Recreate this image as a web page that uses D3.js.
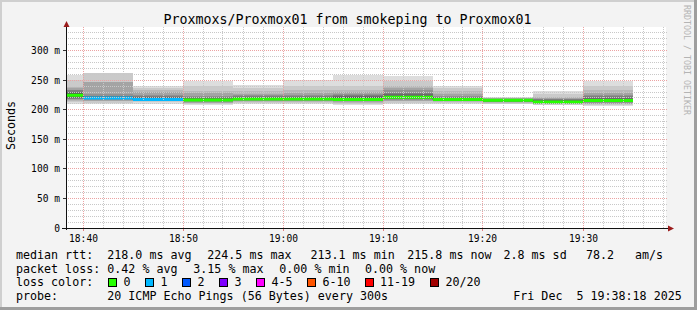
<!DOCTYPE html>
<html><head><meta charset="utf-8">
<script src="https://cdn.jsdelivr.net/npm/d3@7"></script>
<style>
html,body{margin:0;padding:0;background:#f3f3f3;}
svg{display:block;}
text{font-family:"DejaVu Sans Mono",monospace;fill:#000;}
</style></head><body>
<svg id="c" width="697" height="310"></svg>
<script>
// ---------- data ----------
const day = "2025-12-05";
const windowStart = "18:38:18";
const windowEnd = "19:38:18";
const blockEnds = ["18:40","18:45","18:50","18:55","19:00","19:05","19:10","19:15","19:20","19:25","19:30","19:35"];
const medianMs = [224.5, 220.0, 217.5, 216.5, 218.0, 218.0, 217.5, 221.0, 217.5, 216.0, 213.1, 215.8];
const lossCount = [0, 1, 1, 0, 0, 0, 0, 0, 0, 0, 0, 0];
const pingsMs = [
  [210, 213, 214.5, 216, 217.5, 219, 220, 221.5, 223, 224.5, 224.5, 226, 228, 230, 232.6, 234, 236, 239, 251, 259.6],
  [210, 212, 214, 215.5, 216.5, 217.5, 218, 219, 219.5, 220, 220, 221, 222, 223, 224, 226, 246.6, 247, 261.8, 261.8],
  [210, 212.5, 214, 215, 216, 216.5, 217, 217.2, 217.4, 217.5, 217.5, 218.5, 219.5, 221, 222.5, 224.2, 230, 232.6, 236, 241],
  [207.3, 209.5, 211, 212, 213, 214, 215, 215.5, 216, 216.5, 216.5, 217.5, 219, 220.5, 222, 224, 228, 231.4, 240, 249.4],
  [210, 211.8, 213, 214, 215, 216, 216.5, 217, 217.5, 218, 218, 219, 220, 221, 222.5, 224.2, 227, 230.9, 236, 242.7],
  [210, 212, 213.5, 214.5, 215.5, 216.2, 216.8, 217.3, 217.7, 218, 218, 219, 220, 221.5, 223, 224.2, 228, 232.6, 241, 251],
  [207.3, 209.5, 211, 212.5, 214, 215, 216, 216.7, 217.2, 217.5, 217.5, 219, 221.3, 223, 225, 227, 230, 233.7, 241, 258.4],
  [210, 212, 214, 215.5, 216.5, 217.5, 218.5, 219.5, 220.3, 221, 221, 222.5, 224, 226, 228.5, 232.6, 236, 241, 249.4, 256.7],
  [210, 211.5, 213, 214, 215, 215.8, 216.3, 216.8, 217.2, 217.5, 217.5, 218.5, 219.5, 220.5, 222, 224, 227, 231.4, 236, 241],
  [209, 210.5, 211.5, 212.5, 213.2, 213.8, 214.3, 214.8, 215.4, 216, 216, 216.5, 217, 217.6, 218.2, 218.8, 219.4, 220, 220.7, 221.3],
  [207.3, 208.5, 209.5, 210.3, 211, 211.6, 212.1, 212.5, 212.8, 213.1, 213.1, 214, 215, 216.3, 217.6, 219, 220.3, 221.3, 225.9, 230.9],
  [205.6, 207.5, 209, 210.5, 211.8, 212.8, 213.6, 214.3, 215, 215.8, 215.8, 217, 218.6, 220.5, 222.5, 224.2, 228, 232.6, 241, 249.4]
];
const yTicksMs = [0, 50, 100, 150, 200, 250, 300];
const xTickLabels = ["18:40", "18:50", "19:00", "19:10", "19:20", "19:30"];
const lossLabels = ["0", "1", "2", "3", "4-5", "6-10", "11-19", "20/20"];
const lossUpper = [0, 1, 2, 3, 5, 10, 19, 20];
const lossColors = ["#26ff00", "#00b8ff", "#0059ff", "#7e00ff", "#ff00ff", "#ff5500", "#ff0000", "#a10000"];
const smokeGrays = [221, 202, 183, 164, 145, 126, 107, 88, 69, 50];

const rowMedian = [["median rtt:", 16], ["218.0 ms avg", 107.3], ["224.5 ms max", 207.3], ["213.1 ms min", 310.5], ["215.8 ms now", 407.3], ["2.8 ms sd", 503.5], ["78.2", 586], ["am/s", 635]];
const rowLoss = [["packet loss:", 16], ["0.42 % avg", 107.3], ["3.15 % max", 193.3], ["0.00 % min", 279.3], ["0.00 % now", 365]];
const rowProbe = [["probe:", 16], ["20 ICMP Echo Pings (56 Bytes) every 300s", 107.3], ["Fri Dec  5 19:38:18 2025", 513.3]];
const lossBoxX = [108.5, 145.5, 182.5, 219.5, 256.5, 307.5, 365, 430.5];

// ---------- scales ----------
const parse = d3.timeParse("%Y-%m-%d %H:%M:%S");
const t = s => parse(day + " " + (s.length === 5 ? s + ":00" : s));
const X0 = 66, X1 = 666, YB = 228, YT = 27;
const x = d3.scaleTime().domain([t(windowStart), t(windowEnd)]).range([X0, X1]);
const y = d3.scaleLinear().domain([0, 340]).range([YB, YT]);
const crisp = v => Math.floor(v) + 0.5;

const svg = d3.select("#c");
// background + 3D border
svg.append("rect").attr("width", 697).attr("height", 310).attr("fill", "#f3f3f3");
svg.append("path").attr("d", "M1,309 V1 H696").attr("fill", "none").attr("stroke", "#cfcfcf").attr("stroke-width", 2);
svg.append("path").attr("d", "M0,308.5 H695.5 V0").attr("fill", "none").attr("stroke", "#9e9e9e").attr("stroke-width", 3);

// plot background
svg.append("rect").attr("x", X0).attr("y", YT).attr("width", X1 - X0).attr("height", YB - YT).attr("fill", "#ffffff");

svg.append("clipPath").attr("id", "pc").append("rect").attr("x", X0).attr("y", YT).attr("width", X1 - X0).attr("height", YB - YT);
const plot = svg.append("g").attr("clip-path", "url(#pc)");

// blocks
const blocks = blockEnds.map((e, i) => {
  const end = t(e);
  const start = d3.timeMinute.offset(end, -5);
  const lc = lossCount[i];
  const ci = lossUpper.findIndex(u => lc <= u);
  return {start, end, median: medianMs[i], pings: pingsMs[i], color: lossColors[ci]};
});

// smoke
const bands = [];
blocks.forEach(b => {
  for (let k = 0; k < 10; k++) {
    bands.push({start: b.start, end: b.end, lo: b.pings[k], hi: b.pings[19 - k], g: smokeGrays[k]});
  }
});
plot.selectAll("rect.smoke").data(bands).join("rect").attr("class", "smoke")
  .attr("x", d => x(d.start)).attr("width", d => x(d.end) - x(d.start))
  .attr("y", d => Math.round(y(d.hi))).attr("height", d => Math.max(0, Math.round(y(d.lo)) - Math.round(y(d.hi))))
  .attr("fill", d => d3.rgb(d.g, d.g, d.g)).attr("shape-rendering", "crispEdges");

// median connectors + segments
const stepLine = d3.line().x(d => d[0]).y(d => d[1]);
const stepPts = [];
blocks.forEach(b => { stepPts.push([x(b.start), y(b.median)]); stepPts.push([x(b.end), y(b.median)]); });
plot.append("path").attr("d", stepLine(stepPts)).attr("fill", "none").attr("stroke", "#202020").attr("stroke-width", 1);
plot.selectAll("line.med").data(blocks).join("line").attr("class", "med")
  .attr("x1", d => x(d.start)).attr("x2", d => x(d.end))
  .attr("y1", d => y(d.median)).attr("y2", d => y(d.median))
  .attr("stroke", d => d.color).attr("stroke-width", 3);

// grid
const grid = svg.append("g").attr("shape-rendering", "crispEdges");
const minorY = d3.range(10, 340, 10).filter(v => v % 50 !== 0);
grid.selectAll("line.ymin").data(minorY).join("line")
  .attr("x1", X0).attr("x2", X1 + 2).attr("y1", d => crisp(y(d))).attr("y2", d => crisp(y(d)))
  .attr("stroke", "#c8c8c8").attr("stroke-dasharray", "1,1");
const minorX = d3.timeMinute.every(2).range(x.domain()[0], x.domain()[1]).filter(d => d.getMinutes() % 10 !== 0);
grid.selectAll("line.xmin").data(minorX).join("line")
  .attr("x1", d => crisp(x(d))).attr("x2", d => crisp(x(d))).attr("y1", YT).attr("y2", YB)
  .attr("stroke", "#c8c8c8").attr("stroke-dasharray", "1,1");
grid.selectAll("line.ymaj").data(yTicksMs.filter(v => v > 0)).join("line")
  .attr("x1", X0).attr("x2", X1 + 2).attr("y1", d => crisp(y(d))).attr("y2", d => crisp(y(d)))
  .attr("stroke", "#eba3a3").attr("stroke-dasharray", "1,1");
const xTickDates = xTickLabels.map(t);
grid.selectAll("line.xmaj").data(xTickDates).join("line")
  .attr("x1", d => crisp(x(d))).attr("x2", d => crisp(x(d))).attr("y1", YT).attr("y2", YB)
  .attr("stroke", "#eba3a3").attr("stroke-dasharray", "1,1");

// axes (labels via d3 axes)
const yAxis = d3.axisLeft(y).tickValues(yTicksMs).tickFormat(v => v === 0 ? "0" : v + " m").tickSize(4).tickPadding(2.5);
const gy = svg.append("g").attr("transform", `translate(${X0 + 0.5},0)`).call(yAxis);
gy.select(".domain").remove();
gy.selectAll(".tick").attr("transform", d => `translate(0,${crisp(y(d))})`);
gy.selectAll(".tick line").attr("stroke", "#333").attr("shape-rendering", "crispEdges");
gy.selectAll(".tick text").attr("font-family", "DejaVu Sans Mono").attr("font-size", 9.6).attr("fill", "#000");

const xAxis = d3.axisBottom(x).tickValues(xTickDates).tickFormat(d3.timeFormat("%H:%M")).tickSize(2).tickPadding(4.8);
const gx = svg.append("g").attr("transform", `translate(0,${YB + 0.5})`).call(xAxis);
gx.select(".domain").remove();
gx.selectAll(".tick").attr("transform", d => `translate(${crisp(x(d))},0)`);
gx.selectAll(".tick line").attr("stroke", "#e08080").attr("shape-rendering", "crispEdges");
gx.selectAll(".tick text").attr("font-family", "DejaVu Sans Mono").attr("font-size", 9.6).attr("fill", "#000");

// axis lines + arrows
svg.append("line").attr("x1", 62).attr("x2", 669).attr("y1", YB + 0.5).attr("y2", YB + 0.5).attr("stroke", "#111").attr("shape-rendering", "crispEdges");
svg.append("line").attr("x1", X0 + 0.5).attr("x2", X0 + 0.5).attr("y1", YB + 2).attr("y2", 24).attr("stroke", "#111").attr("shape-rendering", "crispEdges");
svg.append("path").attr("d", `M${X0 + 0.5},21 L${X0 - 2.5},27 L${X0 + 3.5},27 Z`).attr("fill", "#9b1c1c");
svg.append("path").attr("d", `M674,${YB + 0.5} L668,${YB - 2.5} L668,${YB + 3.5} Z`).attr("fill", "#9b1c1c");

// title, axis title, watermark
svg.append("text").attr("x", 347.5).attr("y", 24).attr("text-anchor", "middle").attr("font-size", 13.3)
  .text("Proxmoxs/Proxmox01 from smokeping to Proxmox01");
svg.append("text").attr("transform", "translate(15,125.5) rotate(-90)").attr("text-anchor", "middle").attr("font-size", 11.67)
  .text("Seconds");
svg.append("text").attr("transform", "translate(684,5) rotate(90)").attr("text-anchor", "start").attr("font-size", 8.3)
  .style("fill", "#b4b4b4").text("RRDTOOL / TOBI OETIKER");

// legend
const leg = svg.append("g").attr("font-size", 11.67).style("white-space", "pre");
const addRow = (row, by) => leg.append("g").selectAll("text").data(row).join("text")
  .attr("x", d => d[1]).attr("y", by).attr("xml:space", "preserve").text(d => d[0]);
addRow(rowMedian, 259);
addRow(rowLoss, 272.5);
addRow([["loss color:", 16]], 286);
addRow(rowProbe, 299.5);
const lc = leg.append("g").selectAll("g").data(lossLabels).join("g");
lc.append("rect").attr("x", (d, i) => lossBoxX[i]).attr("y", 278.5).attr("width", 8).attr("height", 8)
  .attr("fill", (d, i) => lossColors[i]).attr("stroke", "#000").attr("stroke-width", 1).attr("shape-rendering", "crispEdges");
lc.append("text").attr("x", (d, i) => lossBoxX[i] + 15).attr("y", 286).text(d => d);
</script>
</body></html>
